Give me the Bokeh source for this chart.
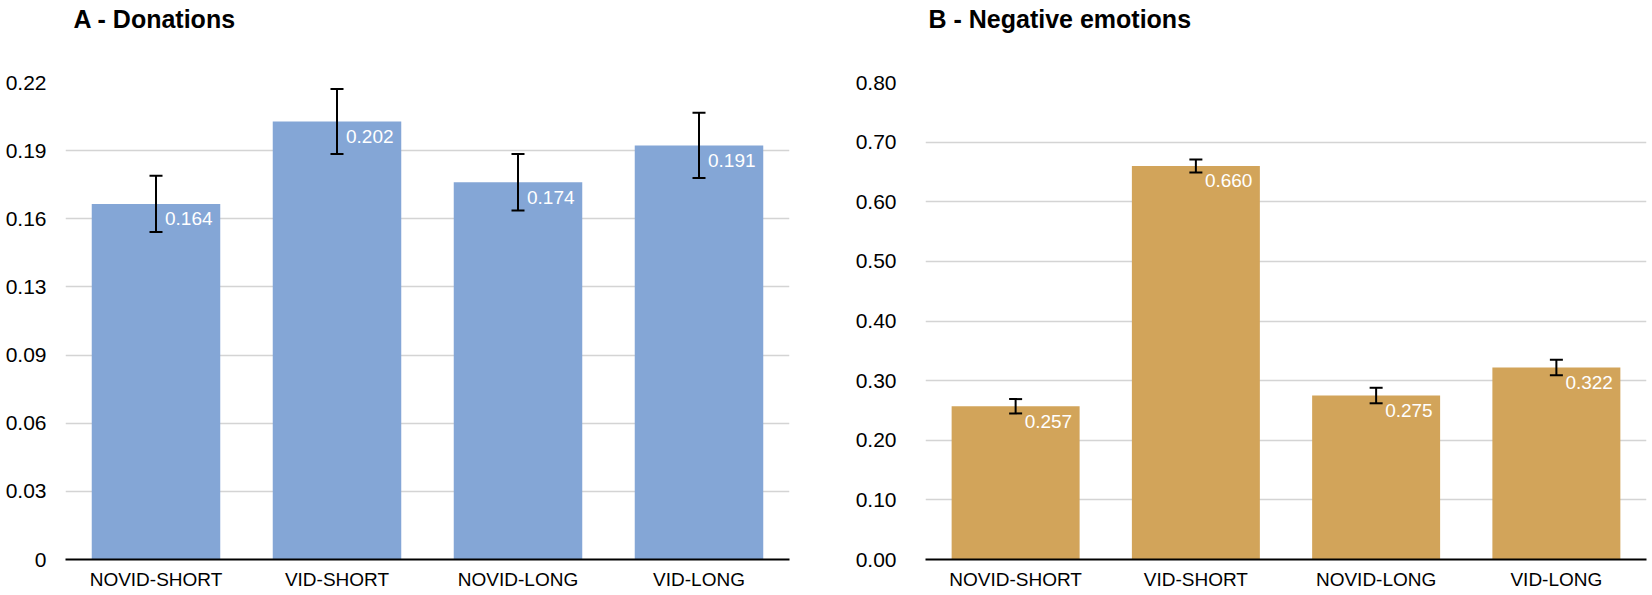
from bokeh.plotting import figure
from bokeh.layouts import row
from bokeh.models import (ColumnDataSource, FactorRange, Range1d, FixedTicker,
                          CustomJSTickFormatter, Whisker, TeeHead, Title)
from bokeh.core.properties import value
from bokeh.embed import file_html
from bokeh.resources import INLINE

categories = ["NOVID-SHORT", "VID-SHORT", "NOVID-LONG", "VID-LONG"]

# Panel A - Donations
don_values = [0.164, 0.202, 0.174, 0.191]
don_errors = [0.013, 0.015, 0.013, 0.015]
don_labels = ["0.164", "0.202", "0.174", "0.191"]
don_ticks = [0, 0.22 / 7, 0.44 / 7, 0.66 / 7, 0.88 / 7, 1.10 / 7, 1.32 / 7, 0.22]
don_tick_labels = ["0", "0.03", "0.06", "0.09", "0.13", "0.16", "0.19", "0.22"]

# Panel B - Negative emotions
neg_values = [0.257, 0.660, 0.275, 0.322]
neg_errors = [0.012, 0.011, 0.013, 0.013]
neg_labels = ["0.257", "0.660", "0.275", "0.322"]
neg_ticks = [0.0, 0.1, 0.2, 0.3, 0.4, 0.5, 0.6, 0.7, 0.8]
neg_tick_labels = ["0.00", "0.10", "0.20", "0.30", "0.40", "0.50", "0.60", "0.70", "0.80"]

FONT = "Liberation Sans"
HEIGHT = 595
B_TOP = 82
B_BOTTOM = 36


def panel(title, vals, errs, labels, ticks, tick_labels, ymax, color,
          width, border_left, border_right, label_standoff, title_dx):
    src = ColumnDataSource(dict(
        cat=categories, val=vals, lab=labels,
        upper=[v + e for v, e in zip(vals, errs)],
        lower=[v - e for v, e in zip(vals, errs)],
    ))
    p = figure(x_range=FactorRange(*categories, range_padding=0),
               y_range=Range1d(0, ymax),
               width=width, height=HEIGHT, output_backend="svg",
               toolbar_location=None, min_border_left=border_left,
               min_border_right=border_right, min_border_top=B_TOP,
               min_border_bottom=B_BOTTOM)
    p.outline_line_color = None
    p.background_fill_color = "white"

    # spacer panel between the title and the plot frame
    p.add_layout(Title(text=" ", text_font_size="10px", standoff=32), "above")
    p.title.text = title
    p.title.text_font = FONT
    p.title.text_font_size = "25px"
    p.title.text_font_style = "bold"
    p.title.text_color = "black"
    p.title.align = "left"
    p.title.offset = title_dx
    p.title.standoff = 6
    p.title.vertical_align = "top"

    p.vbar(x="cat", top="val", width=0.71, source=src, fill_color=color,
           line_color=None)
    w = Whisker(source=src, base="cat", upper="upper", lower="lower",
                line_color="black", line_width=2, level="annotation",
                upper_head=TeeHead(size=13, line_color="black", line_width=2),
                lower_head=TeeHead(size=13, line_color="black", line_width=2))
    p.add_layout(w)
    p.text(x="cat", y="val", text="lab", source=src, x_offset=9, y_offset=15,
           text_align="left", text_baseline="middle", text_color="white",
           text_font=value(FONT), text_font_size="19px")

    p.xgrid.visible = False
    p.ygrid.grid_line_color = "#d4d4d4"
    p.ygrid.grid_line_width = 1.3
    p.ygrid.ticker = FixedTicker(ticks=ticks)

    p.yaxis.ticker = FixedTicker(ticks=ticks)
    p.yaxis.formatter = CustomJSTickFormatter(
        args=dict(labels=tick_labels, step=ymax / (len(tick_labels) - 1)),
        code="return labels[Math.round(tick / step)];")
    p.yaxis.axis_line_color = None
    p.yaxis.major_tick_line_color = None
    p.yaxis.minor_tick_line_color = None
    p.yaxis.major_label_standoff = label_standoff
    p.yaxis.major_label_text_font = FONT
    p.yaxis.major_label_text_font_size = "21px"
    p.yaxis.major_label_text_color = "black"

    p.xaxis.axis_line_color = "black"
    p.xaxis.axis_line_width = 2
    p.xaxis.major_tick_line_color = None
    p.xaxis.minor_tick_line_color = None
    p.xaxis.major_label_standoff = 3
    p.xaxis.major_label_text_font = FONT
    p.xaxis.major_label_text_font_size = "19px"
    p.xaxis.major_label_text_color = "black"
    return p


pa = panel("A - Donations", don_values, don_errors, don_labels, don_ticks,
           don_tick_labels, 0.22, "#84A6D6", 800, 65, 11, 13, 8)
pb = panel("B - Negative emotions", neg_values, neg_errors, neg_labels,
           neg_ticks, neg_tick_labels, 0.80, "#D2A45A", 852, 125, 6, 23, 3)

layout = row(pa, pb)
open("out.html", "w").write(file_html(layout, INLINE))
